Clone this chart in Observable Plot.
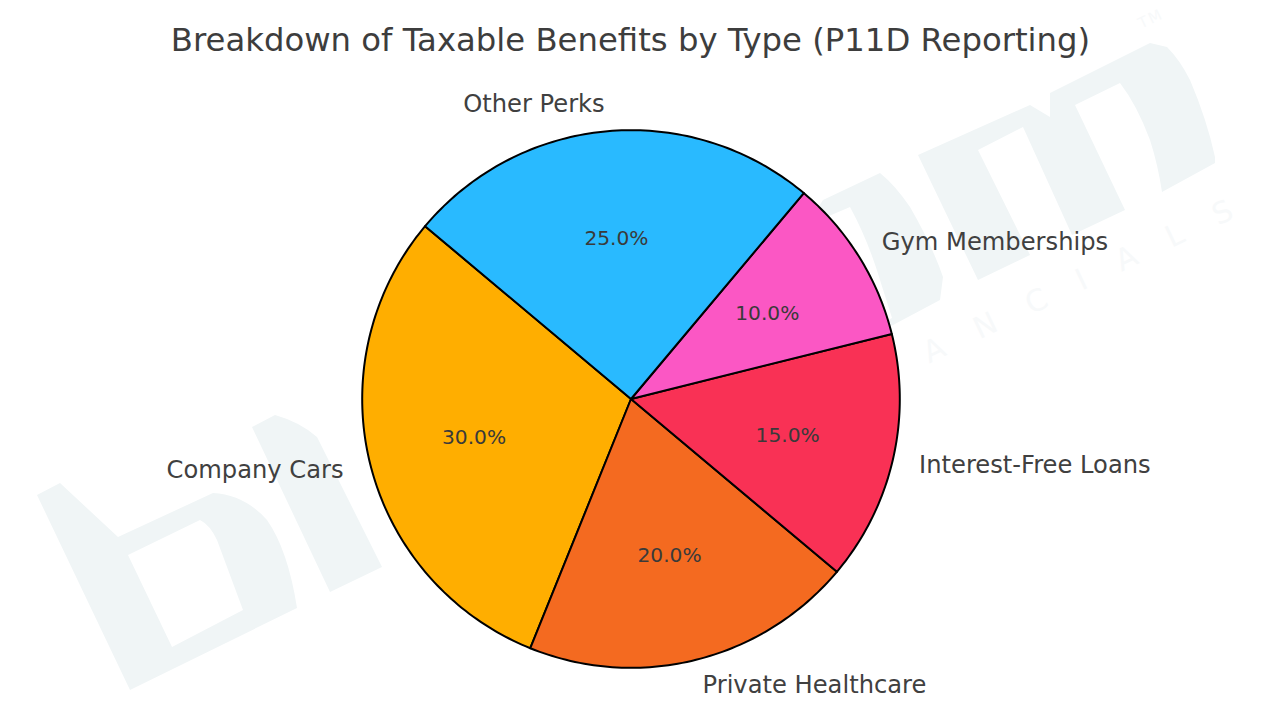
<!DOCTYPE html>
<html>
<head>
<meta charset="utf-8">
<script src="https://cdn.jsdelivr.net/npm/d3@7"></script>
<script src="https://cdn.jsdelivr.net/npm/@observablehq/plot@0.6"></script>
<style>
  html, body { margin: 0; padding: 0; background: #fff; width: 1280px; height: 720px; overflow: hidden; font-family: "DejaVu Sans", sans-serif; }
  #page { position: relative; width: 1280px; height: 720px; overflow: hidden; }
  #logo { position: absolute; left: 0; top: 0; }
  .wm { position: absolute; white-space: nowrap; transform-origin: 0 0; line-height: 1; color: #f7f9fa; transform: rotate(-25.5deg); }
  #wm2 { left: 780px; top: 407px; font-size: 30px; letter-spacing: 35px; }
  #wm3 { left: 1136px; top: 18px; font-size: 15px; letter-spacing: 2px; }
  #title { position: absolute; left: -9.5px; top: 0; width: 1280px; height: 80px; text-align: center; line-height: 81px; font-size: 32.3px; color: #3d3d3d; }
  #chart { position: absolute; left: 0; top: 80px; }
</style>
</head>
<body>
<div id="page">
  <!-- decorative background logo, not part of the chart's data -->
  <svg id="logo" width="1280" height="720" aria-hidden="true">
    <path fill="#f0f5f6" fill-rule="evenodd" d="
      M37 495 L60 483 L118 537 L213 493 Q245 495 267 520 Q288 550 297 608 L130 690 Z
      M128 555 L200 520 Q210 525 217 540 L243 610 L172 647 Z
      M252 427 L275 415 Q300 422 317 437 L382 567 L330 592 Z
      M823 200 L880 173 Q895 185 910 207 Q932 245 943 277 L940 300 L893 325 L830 345 L760 300 Z
      M815 222 L850 207 Q868 240 880 280 L892 318 L850 340 Z
      M918 155 L1030 105 L1050 117 L1050 93 L1150 43 L1167 47 Q1180 60 1190 80 Q1207 120 1215 157 L1215 163 L1162 192 Q1158 165 1150 140 Q1137 105 1120 83 L1075 105 L1125 210 L1072 235 L1023 127 L978 150 L1030 255 L978 280 Z"/>
  </svg>
  <div class="wm" id="wm2">FINANCIALS</div>
  <div class="wm" id="wm3">TM</div>
  <div id="title">Breakdown of Taxable Benefits by Type (P11D Reporting)</div>
  <div id="chart"></div>
</div>
<script>
const categories = ["Company Cars", "Private Healthcare", "Interest-Free Loans", "Gym Memberships", "Other Perks"];
const shares = [30, 20, 15, 10, 25];
const colors = ["#FFAE00", "#F46A20", "#F93155", "#FB57C4", "#29BAFF"];
const startAngle = 140;

// Slice extents derived from the shares (counter-clockwise, degrees)
let cumulative = 0;
const slices = categories.map((name, i) => {
  const a0 = startAngle + cumulative * 3.6;
  cumulative += shares[i];
  const a1 = startAngle + cumulative * 3.6;
  return {name, share: shares[i], a0, a1, mid: (a0 + a1) / 2};
});
const rad = (d) => d * Math.PI / 180;
const outline = slices.flatMap((s) => {
  const n = Math.ceil(s.a1 - s.a0);
  const rim = d3.range(n + 1).map((k) => {
    const a = rad(s.a0 + (s.a1 - s.a0) * k / n);
    return {name: s.name, x: Math.cos(a), y: Math.sin(a)};
  });
  const hub = {name: s.name, x: 0, y: 0};
  return [hub, ...rim, hub];
});
const labelAt = (s, r) => ({...s, x: r * Math.cos(rad(s.mid)), y: r * Math.sin(rad(s.mid))});
const outerLabels = slices.map((s) => labelAt(s, 1.1));
const innerLabels = slices.map((s) => labelAt(s, 0.6));

const radius = 268.8, cx = 630.5, cy = 318.5, W = 1280, H = 640;
const plot = Plot.plot({
  width: W, height: H, margin: 0,
  style: {background: "transparent", fontFamily: "DejaVu Sans"},
  x: {domain: [-cx / radius, (W - cx) / radius], range: [0, W], axis: null},
  y: {domain: [cy / radius, (cy - H) / radius], range: [0, H], axis: null},
  color: {domain: categories, range: colors},
  marks: [
    Plot.line(outline, {x: "x", y: "y", z: "name", fill: "name", stroke: "#000", strokeWidth: 2, strokeLinejoin: "round", curve: "linear"}),
    Plot.text(outerLabels.filter((d) => d.x >= 0), {x: "x", y: "y", dy: -0.5, text: "name", textAnchor: "start", lineAnchor: "middle", fontSize: 24.2, fill: "#404040"}),
    Plot.text(outerLabels.filter((d) => d.x < 0), {x: "x", y: "y", dy: -0.5, dx: -0.5, text: "name", textAnchor: "end", lineAnchor: "middle", fontSize: 24.2, fill: "#404040"}),
    Plot.text(innerLabels, {x: "x", y: "y", dx: -0.5, text: (d) => d.share.toFixed(1) + "%", lineAnchor: "middle", fontSize: 20.2, fill: "#3a3a3a"})
  ]
});
document.getElementById("chart").appendChild(plot);
</script>
</body>
</html>
